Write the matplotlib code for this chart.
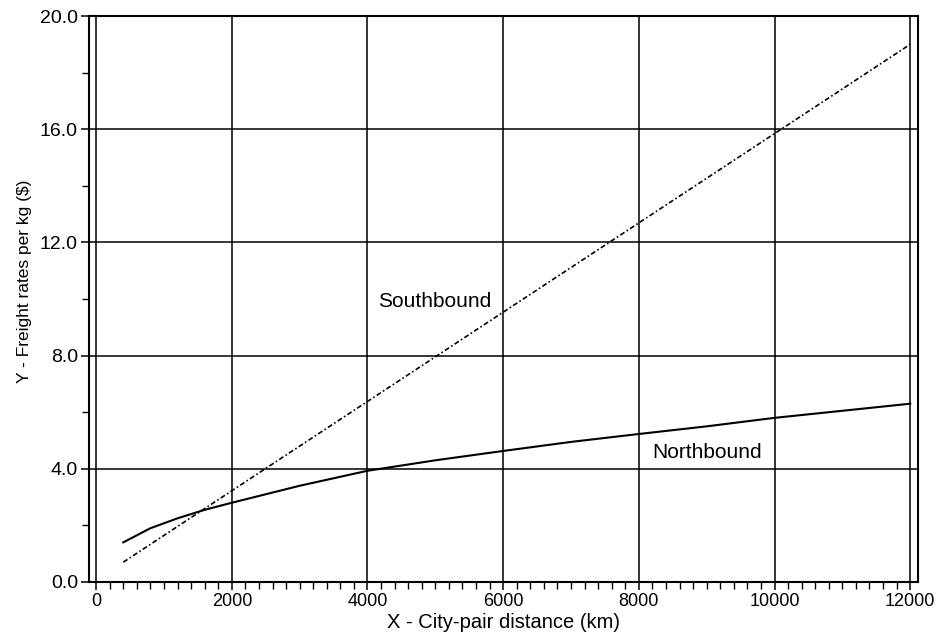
import matplotlib
matplotlib.use("Agg")
import matplotlib.pyplot as plt
from matplotlib.ticker import MultipleLocator, FormatStrFormatter

plt.rcParams['font.family'] = ['Liberation Sans', 'DejaVu Sans']

# Data
south_x = [400, 12000]
south_y = [0.7, 19.0]
north_x = [400, 800, 1200, 1600, 2000, 3000, 4000, 5000, 6000, 7000, 8000, 9000, 10000, 11000, 12000]
north_y = [1.4, 1.9, 2.25, 2.55, 2.8, 3.4, 3.93, 4.3, 4.63, 4.95, 5.23, 5.5, 5.8, 6.05, 6.3]
x_ticks = [0, 2000, 4000, 6000, 8000, 10000, 12000]
y_ticks = [0, 4, 8, 12, 16, 20]

fig = plt.figure(figsize=(9.4, 6.38), dpi=100)
ax = fig.add_axes([0.0947, 0.0878, 0.9766 - 0.0947, 0.9749 - 0.0878])

ax.set_xlim(-105, 12115)
ax.set_ylim(0, 20)

for xv in x_ticks:
    ax.axvline(xv, color='black', lw=1.1, zorder=1)
for yv in y_ticks:
    ax.axhline(yv, color='black', lw=1.1, zorder=1)

ax.plot(south_x, south_y, color='black', lw=1.2, linestyle=(0, (3, 1.5, 1, 1.5)), zorder=3)
ax.plot(north_x, north_y, color='black', lw=1.5, zorder=3)

ax.text(4985, 9.9, 'Southbound', fontsize=15, ha='center', va='center')
ax.text(9000, 4.56, 'Northbound', fontsize=15, ha='center', va='center')

ax.set_xticks(x_ticks)
ax.set_yticks(y_ticks)
ax.yaxis.set_major_formatter(FormatStrFormatter('%.1f'))
ax.xaxis.set_minor_locator(MultipleLocator(200))
ax.yaxis.set_minor_locator(MultipleLocator(2))
ax.tick_params(axis='both', which='major', direction='out', length=6, width=1.1, color='black')
ax.tick_params(axis='both', which='minor', direction='out', length=5, width=1.0, color='black')
ax.tick_params(axis='x', labelsize=13, pad=2)
ax.tick_params(axis='y', labelsize=14, pad=2)

for s in ax.spines.values():
    s.set_linewidth(1.5)
    s.set_color('black')

ax.set_xlabel('X - City-pair distance (km)', fontsize=14.5, labelpad=2)
ax.set_ylabel('Y - Freight rates per kg ($)', fontsize=12.5)
ax.yaxis.set_label_coords(-0.069, 0.532)

fig.savefig('out.png', dpi=100)
